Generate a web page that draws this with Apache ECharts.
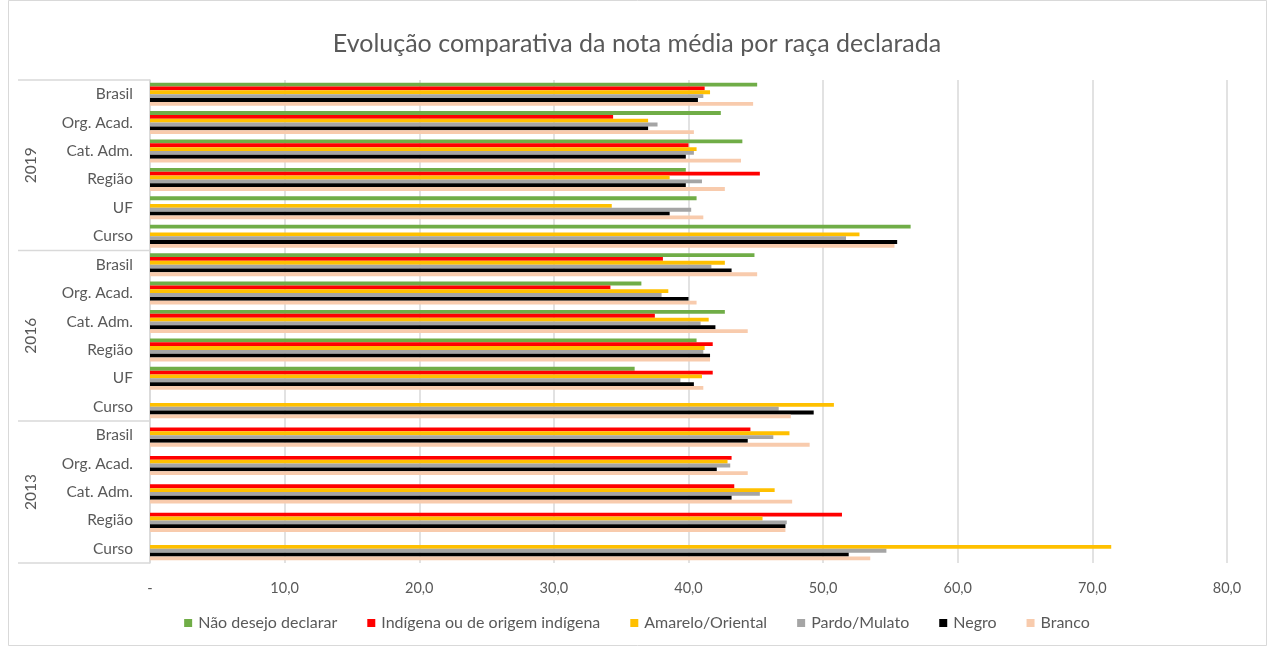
<!DOCTYPE html>
<html>
<head>
<meta charset="utf-8">
<title>Evolução comparativa</title>
<script src="https://cdn.jsdelivr.net/npm/echarts@6/dist/echarts.min.js"></script>
<style>
	html, body { margin: 0; padding: 0; background: #fff; }
	#main-echarts { width: 1274px; height: 648px; }
</style>
</head>
<body>
<div id="main-echarts"></div>
<script>
// anos de cada categoria (de cima para baixo)
var anos = ['2019','2019','2019','2019','2019','2019','2016','2016','2016','2016','2016','2016','2013','2013','2013','2013','2013'];
var categorias = ['Brasil','Org. Acad.','Cat. Adm.','Região','UF','Curso','Brasil','Org. Acad.','Cat. Adm.','Região','UF','Curso','Brasil','Org. Acad.','Cat. Adm.','Região','Curso'];

var seriesNomes = ['Não desejo declarar','Indígena ou de origem indígena','Amarelo/Oriental','Pardo/Mulato','Negro','Branco'];
var cores = ['#70AD47','#FF0000','#FFC000','#A5A5A5','#000000','#F8CBAD'];

// notas médias
var naoDeclarar = [45.1, 42.4, 44.0, 39.8, 40.6, 56.5, 44.9, 36.5, 42.7, 40.6, 36.0, null, null, null, null, null, null];
var indigena    = [41.2, 34.4, 40.0, 45.3, null, null, 38.1, 34.2, 37.5, 41.8, 41.8, null, 44.6, 43.2, 43.4, 51.4, null];
var amarelo     = [41.6, 37.0, 40.6, 38.6, 34.3, 52.7, 42.7, 38.5, 41.5, 41.2, 41.0, 50.8, 47.5, 42.9, 46.4, 45.5, 71.4];
var pardo       = [41.1, 37.7, 40.4, 41.0, 40.2, 51.7, 41.7, 38.0, 40.9, 41.1, 39.4, 46.7, 46.3, 43.1, 45.3, 47.3, 54.7];
var negro       = [40.7, 37.0, 39.8, 39.8, 38.6, 55.5, 43.2, 40.0, 42.0, 41.6, 40.4, 49.3, 44.4, 42.1, 43.2, 47.2, 51.9];
var branco      = [44.8, 40.4, 43.9, 42.7, 41.1, 55.3, 45.1, 40.6, 44.4, 41.6, 41.1, 47.6, 49.0, 44.4, 47.7, 47.2, 53.5];

var xTicks = ['-','10,0','20,0','30,0','40,0','50,0','60,0','70,0','80,0'];

var fonte = 'Lato, "Liberation Sans", sans-serif';
var corTexto = '#595959';

var valores = [naoDeclarar, indigena, amarelo, pardo, negro, branco];
var chaves = [];
for (var i = 0; i < categorias.length; i++) {
	chaves.push(anos[i] + '|' + categorias[i]);
}

var series = [];
for (var s = 0; s < seriesNomes.length; s++) {
	series.push({
		name: seriesNomes[s],
		type: 'bar',
		data: valores[s],
		itemStyle: { color: cores[s] },
		barGap: '0%',
		barCategoryGap: '19%'
	});
}

var myChart = echarts.init(document.getElementById('main-echarts'));
var option = {
	animation: false,
	backgroundColor: '#fff',
	title: {
		text: 'Evolução comparativa da nota média por raça declarada',
		left: 'center',
		top: 26,
		textStyle: { fontFamily: fonte, fontSize: 25, fontWeight: 'normal', color: corTexto }
	},
	legend: {
		bottom: 12,
		left: 'center',
		icon: 'rect',
		itemWidth: 8,
		itemHeight: 8,
		itemGap: 30,
		data: seriesNomes,
		textStyle: { fontFamily: fonte, fontSize: 16, color: corTexto, padding: [0, 0, 0, 1] }
	},
	grid: { left: 150, right: 47, top: 80, bottom: 85, containLabel: false },
	xAxis: {
		type: 'value',
		min: 0,
		max: 80,
		interval: 10,
		axisLine: { show: false },
		axisTick: { show: false },
		splitLine: { lineStyle: { color: '#d9d9d9', width: 1.5 } },
		axisLabel: {
			margin: 18,
			fontFamily: fonte,
			fontSize: 14.5,
			color: corTexto,
			formatter: function(v) { return xTicks[Math.round(v / 10)]; }
		}
	},
	yAxis: {
		type: 'category',
		inverse: true,
		data: chaves,
		axisLine: { lineStyle: { color: '#d9d9d9', width: 1.5 } },
		axisTick: { show: false },
		axisLabel: {
			margin: 17,
			fontFamily: fonte,
			fontSize: 15.5,
			color: corTexto,
			formatter: function(v) { return v.split('|')[1]; }
		}
	},
	series: series
};
myChart.setOption(option);

/* rótulos dos anos e linhas separadoras do eixo de categorias */
function desenhaGrupos() {
	var y0 = myChart.convertToPixel({ yAxisIndex: 0 }, chaves[0]);
	var y1 = myChart.convertToPixel({ yAxisIndex: 0 }, chaves[1]);
	var banda = y1 - y0;
	var els = [];
	var ini = 0;
	for (var i = 1; i <= chaves.length; i++) {
		if (i == chaves.length || anos[i] != anos[ini]) {
			var topo = myChart.convertToPixel({ yAxisIndex: 0 }, chaves[ini]) - banda / 2;
			var fim = myChart.convertToPixel({ yAxisIndex: 0 }, chaves[i - 1]) + banda / 2;
			els.push({
				type: 'text',
				x: 31, y: (topo + fim) / 2,
				rotation: Math.PI / 2,
				style: { text: anos[ini], fontFamily: fonte, fontSize: 15.5, fill: corTexto, align: 'center', verticalAlign: 'middle' }
			});
			if (ini == 0) {
				els.push({ type: 'line', shape: { x1: 18, y1: topo, x2: 150, y2: topo }, style: { stroke: '#d9d9d9', lineWidth: 1.5 } });
			}
			els.push({ type: 'line', shape: { x1: 18, y1: fim, x2: 150, y2: fim }, style: { stroke: '#d9d9d9', lineWidth: 1.5 } });
			ini = i;
		}
	}
	// borda do gráfico
	els.push({ type: 'rect', shape: { x: 8.5, y: 0.5, width: 1258, height: 645 }, style: { fill: 'none', stroke: '#d9d9d9', lineWidth: 1 } });
	myChart.setOption({ graphic: els });
}
desenhaGrupos();
</script>
</body>
</html>
